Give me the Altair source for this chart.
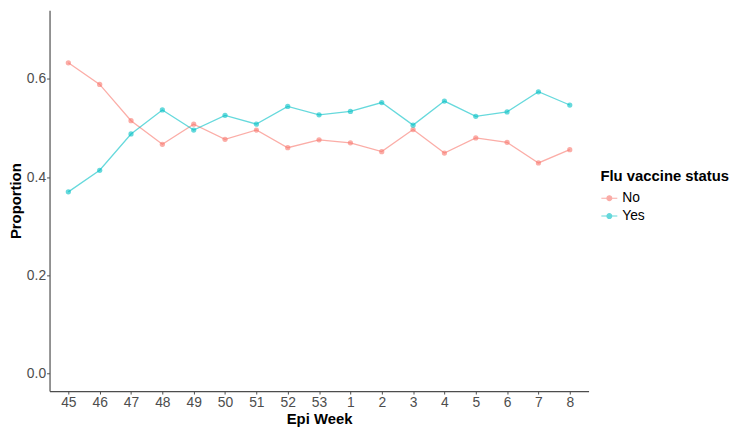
import altair as alt
import pandas as pd

weeks = ["45", "46", "47", "48", "49", "50", "51", "52", "53",
         "1", "2", "3", "4", "5", "6", "7", "8"]
no_vals = [0.633, 0.589, 0.515, 0.467, 0.508, 0.477, 0.496, 0.460, 0.476,
           0.470, 0.452, 0.497, 0.449, 0.480, 0.471, 0.429, 0.456]
yes_vals = [0.370, 0.414, 0.488, 0.537, 0.496, 0.526, 0.508, 0.544, 0.527,
            0.534, 0.552, 0.506, 0.555, 0.524, 0.533, 0.574, 0.547]
statuses = ["No", "Yes"]
colors = ["#F8766D", "#00BFC4"]

df = pd.DataFrame({
    "week": weeks * 2,
    "prop": no_vals + yes_vals,
    "status": ["No"] * len(weeks) + ["Yes"] * len(weeks),
})

x = alt.X("week:N", sort=weeks, title="Epi Week",
          scale=alt.Scale(type="point", padding=0.6),
          axis=alt.Axis(labelAngle=0, tickSize=3, labelPadding=2,
                        titlePadding=2, titleAnchor="middle"))
y = alt.Y("prop:Q", title="Proportion",
          scale=alt.Scale(domain=[-0.036, 0.74], nice=False, zero=False),
          axis=alt.Axis(values=[0.0, 0.2, 0.4, 0.6], format=".1f",
                        tickSize=3, labelPadding=1, titlePadding=3))
color = alt.Color("status:N", title="Flu vaccine status",
                  scale=alt.Scale(domain=statuses, range=colors),
                  legend=alt.Legend(
                      symbolType="M-1,0H1M-0.3,0A0.3,0.3 0 1,1 0.3,0A0.3,0.3 0 1,1 -0.3,0",
                      symbolSize=260, symbolStrokeWidth=1.2,
                      symbolOpacity=0.6, symbolFillColor=None,
                      orient="none", legendX=557, legendY=161,
                      padding=0, rowPadding=2))

base = alt.Chart(df).encode(x=x, y=y, color=color)
lines = base.mark_line(strokeWidth=1.3, opacity=0.6)
points = base.mark_circle(size=28, opacity=0.6)

chart = alt.layer(lines, points).properties(
    width=545, height=385,
    padding={"left": 0, "top": 0, "right": 0, "bottom": 0},
).configure_view(stroke=None).configure_axis(
    grid=False, domainColor="#4D4D4D", domainWidth=1.2, tickColor="#4D4D4D",
    labelColor="#4D4D4D", labelFont="Liberation Sans", labelFontSize=14,
    titleFont="Liberation Sans", titleFontSize=15, titleFontWeight="bold",
    titleColor="#000000",
).configure_legend(
    titleFont="Liberation Sans", titleFontSize=15, titleFontWeight="bold",
    titleColor="#000000", labelFont="Liberation Sans", labelFontSize=14,
    labelColor="#000000",
)

chart.save("out.html", embed_options={"renderer": "svg", "actions": False})
